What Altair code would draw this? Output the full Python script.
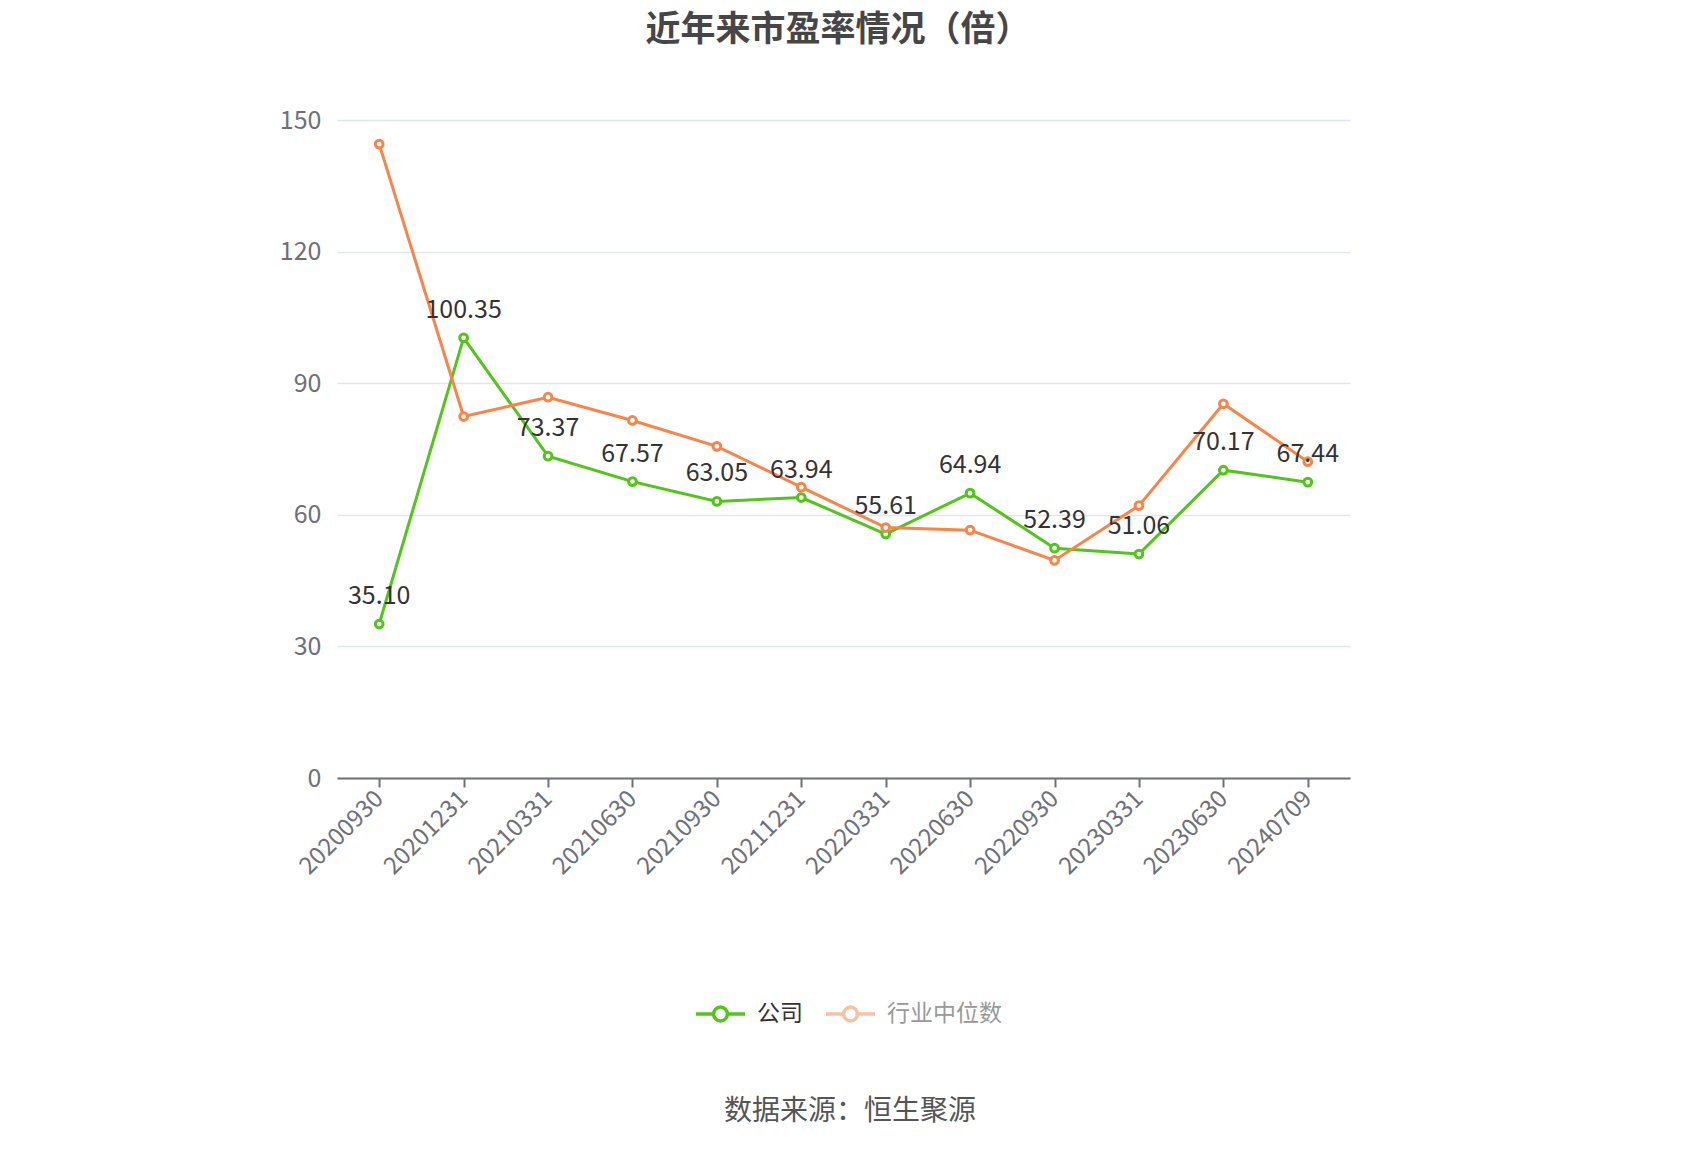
import altair as alt
import pandas as pd

dates = ["20200930", "20201231", "20210331", "20210630", "20210930", "20211231",
         "20220331", "20220630", "20220930", "20230331", "20230630", "20240709"]
company = [35.10, 100.35, 73.37, 67.57, 63.05, 63.94, 55.61, 64.94, 52.39, 51.06, 70.17, 67.44]
industry = [144.5, 82.4, 86.8, 81.5, 75.6, 66.3, 57.1, 56.5, 49.6, 62.1, 85.3, 72.1]
series_names = ["公司", "行业中位数"]
colors = ["#52c41a", "#fa8448"]
legend_symbol_colors = ["#52c41a", "#fbbfa2"]
legend_text_colors = ["#333333", "#999999"]
y_ticks = [0, 30, 60, 90, 120, 150]
title_text = "近年来市盈率情况（倍）"
source_text = "数据来源：恒生聚源"

FONT = "Noto Sans CJK SC"
W, H = 1013, 658

df = pd.DataFrame({
    "date": dates * 2,
    "value": company + industry,
    "series": [series_names[0]] * len(dates) + [series_names[1]] * len(dates),
})

color_scale = alt.Scale(domain=series_names, range=colors)

x_enc = alt.X(
    "date:N", sort=dates,
    scale=alt.Scale(type="point", padding=0.5),
    axis=alt.Axis(
        title=None, labelAngle=-45, labelAlign="right", labelBaseline="middle",
        labelFontSize=24, labelColor="#6e7079", labelFont=FONT, labelPadding=8,
        domainColor="#6e7079", domainWidth=2, tickColor="#6e7079", tickWidth=2,
        tickSize=9, grid=False,
    ),
)
y_enc = alt.Y(
    "value:Q",
    scale=alt.Scale(domain=[0, 150], nice=False, zero=True),
    axis=alt.Axis(
        title=None, values=y_ticks, domain=False, ticks=False,
        gridColor="#e0e6f1", gridWidth=1.5,
        labelFontSize=25, labelColor="#6e7079", labelFont=FONT, labelPadding=16,
    ),
)

base = alt.Chart(df)

layers = []
for name in series_names:
    sub = base.transform_filter(alt.datum.series == name)
    line = sub.mark_line(strokeWidth=3).encode(
        x=x_enc, y=y_enc,
        color=alt.Color("series:N", scale=color_scale, legend=None),
    )
    pts = sub.mark_point(shape="circle", filled=True, fill="white", size=60,
                         strokeWidth=3, opacity=1).encode(
        x=x_enc, y=y_enc,
        stroke=alt.Stroke("series:N", scale=color_scale, legend=None),
    )
    layers += [line, pts]

labels = base.transform_filter(alt.datum.series == series_names[0]).mark_text(
    fontSize=25, font=FONT, color="#333333", baseline="alphabetic", dy=-20
).encode(x=x_enc, y=y_enc, text=alt.Text("value:Q", format=".2f"))
layers.append(labels)

# Title
title = alt.Chart(pd.DataFrame({"t": [title_text]})).mark_text(
    fontSize=35, fontWeight="bold", font=FONT, color="#464646",
    align="center", baseline="middle"
).encode(text="t:N", x=alt.value(501), y=alt.value(-90))
layers.append(title)

# Custom legend
leg_x = [359, 489]
for i, name in enumerate(series_names):
    rule = alt.Chart(pd.DataFrame({"s": [name]})).mark_rule(
        strokeWidth=3.5, color=legend_symbol_colors[i]
    ).encode(x=alt.value(leg_x[i]), x2=alt.value(leg_x[i] + 49), y=alt.value(894))
    circ = alt.Chart(pd.DataFrame({"s": [name]})).mark_point(
        shape="circle", filled=True, fill="white", stroke=legend_symbol_colors[i],
        strokeWidth=3.5, size=190, opacity=1
    ).encode(x=alt.value(leg_x[i] + 24.5), y=alt.value(894))
    txt = alt.Chart(pd.DataFrame({"s": [name]})).mark_text(
        fontSize=23, font=FONT, color=legend_text_colors[i], align="left", baseline="middle"
    ).encode(text="s:N", x=alt.value(leg_x[i] + 61), y=alt.value(894))
    layers += [rule, circ, txt]

# Source
src = alt.Chart(pd.DataFrame({"t": [source_text]})).mark_text(
    fontSize=28, font=FONT, color="#555555", align="center", baseline="middle"
).encode(text="t:N", x=alt.value(513), y=alt.value(992))
layers.append(src)

chart = alt.layer(*layers).properties(
    width=W, height=H,
    autosize=alt.AutoSizeParams(type="none"),
    padding={"left": 329, "top": 112, "right": 330, "bottom": 362},
    background="white",
).configure_view(stroke=None)

chart.save("out.html", embed_options={"renderer": "svg", "actions": False})
